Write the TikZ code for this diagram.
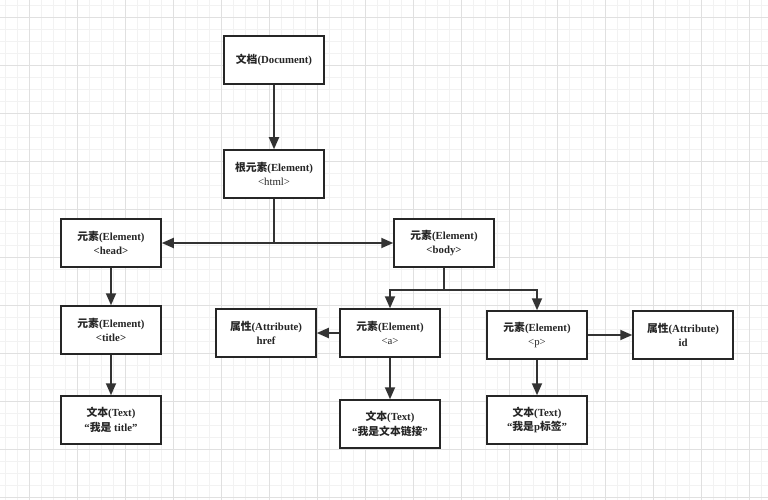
\documentclass[tikz,border=0pt]{standalone}
\usepackage{fontspec}
\setmainfont{Liberation Serif}
\newfontfamily\cjk{Noto Sans CJK SC Bold}
\usetikzlibrary{arrows.meta}
\newcommand{\zh}[1]{{\cjk #1}}
\begin{document}
\begin{tikzpicture}[x=1pt,y=-1pt,
  box/.style={draw=black!85, line width=1.5pt, fill=white, minimum width=100pt, minimum height=48pt,
    inner sep=0pt, align=center, font=\fontsize{10.8}{14.5}\selectfont\bfseries, text=black!85},
  conn/.style={draw=black!80, line width=1.8pt, -{Triangle[length=12pt,width=10pt]}},
  plain/.style={draw=black!80, line width=1.8pt}]
\useasboundingbox (0,0) rectangle (768,500);
\fill[white] (0,0) rectangle (768,500);
\foreach \x in {5,17,...,768} \draw[black!5, line width=0.6pt] (\x,0) -- (\x,500);
\foreach \y in {5,17,...,500} \draw[black!5, line width=0.6pt] (0,\y) -- (768,\y);
\foreach \x in {29,77,...,768} \draw[black!12, line width=0.8pt] (\x,0) -- (\x,500);
\foreach \y in {17,65,...,500} \draw[black!12, line width=0.8pt] (0,\y) -- (768,\y);

\node[box] (doc) at (274,60) {\zh{文档}(Document)};
\node[box] (html) at (274,174) {\zh{根元素}(Element)\\\mdseries\textless html\textgreater};
\node[box] (head) at (111,243) {\zh{元素}(Element)\\\textless head\textgreater};
\node[box] (body) at (444,243) {\zh{元素}(Element)\\\textless body\textgreater};
\node[box] (title) at (111,330) {\zh{元素}(Element)\\\textless title\textgreater};
\node[box] (ttext) at (111,420) {\zh{文本}(Text)\\“\zh{我是} title”};
\node[box] (href) at (266,333) {\zh{属性}(Attribute)\\href};
\node[box] (a) at (390,333) {\zh{元素}(Element)\\\mdseries\textless a\textgreater};
\node[box] (atext) at (390,424) {\zh{文本}(Text)\\“\zh{我是文本链接}”};
\node[box] (p) at (537,335) {\zh{元素}(Element)\\\mdseries\textless p\textgreater};
\node[box] (id) at (683,335) {\zh{属性}(Attribute)\\id};
\node[box] (ptext) at (537,420) {\zh{文本}(Text)\\“\zh{我是}p\zh{标签}”};

\coordinate (hj) at (274,243);
\coordinate (bj) at (444,290);

\draw[conn] (doc) -- (html);
\draw[plain] (html.south) -- (hj);
\draw[conn] (hj) -- (head.east);
\draw[conn] (hj) -- (body.west);
\draw[conn] (head) -- (title);
\draw[conn] (title) -- (ttext);
\draw[plain] (body.south) -- (bj);
\draw[conn] (bj) -| (a.north);
\draw[conn] (bj) -| (p.north);
\draw[conn] (a) -- (href);
\draw[conn] (a) -- (atext);
\draw[conn] (p) -- (id);
\draw[conn] (p) -- (ptext);
\end{tikzpicture}
\end{document}
